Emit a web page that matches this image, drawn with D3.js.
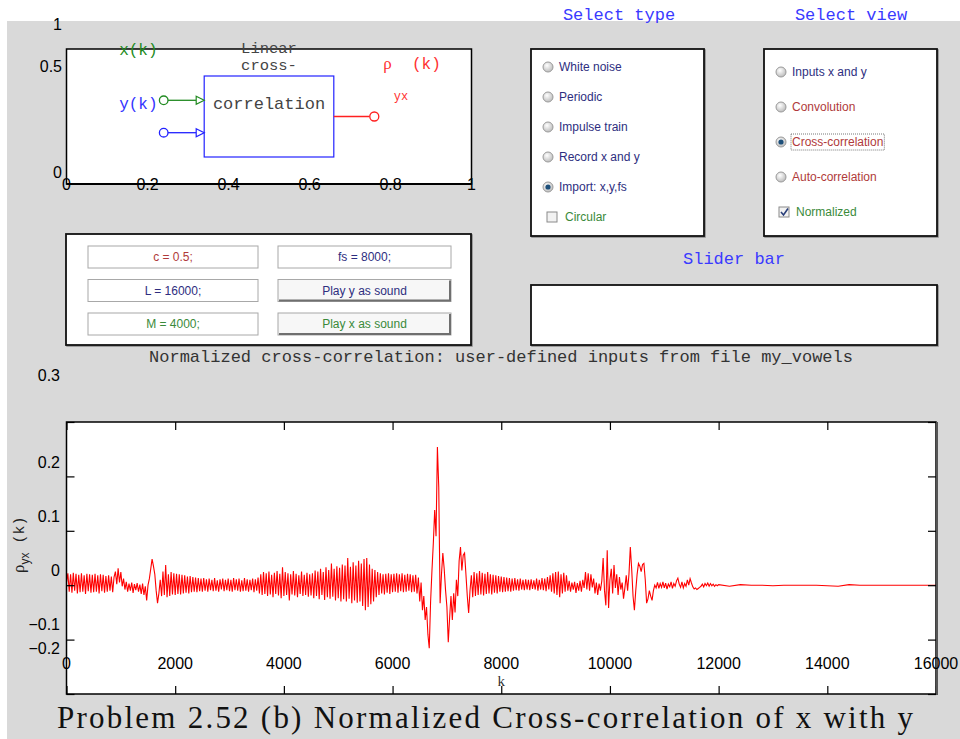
<!DOCTYPE html>
<html>
<head>
<meta charset="utf-8">
<script src="https://cdn.jsdelivr.net/npm/d3@7"></script>
<style>
  body { margin: 0; background: #fff; }
  svg { display: block; }
</style>
</head>
<body>
<div id="chart"></div>
<script>
// ---- data ----
const diagTicksX = [0, 0.2, 0.4, 0.6, 0.8, 1];
const diagTicksY = [0, 0.5, 1];
const typeOptions = ["White noise", "Periodic", "Impulse train", "Record x and y", "Import: x,y,fs"];
const typeSelected = 4;
const viewOptions = ["Inputs x and y", "Convolution", "Cross-correlation", "Auto-correlation"];
const viewSelected = 2;
const fieldLabels = [["c = 0.5;", "fs = 8000;"], ["L = 16000;", "Play y as sound"], ["M = 4000;", "Play x as sound"]];
const kTicks = [0, 2000, 4000, 6000, 8000, 10000, 12000, 14000, 16000];
const rhoTicks = [-0.2, -0.1, 0, 0.1, 0.2, 0.3];

// rho_yx(k), in thousandths, k = 0, 25, 50, ... 11975
const kStep = 25;
const rhoMilli = [
  5, 22, -12, 20, -14, 23, -10, 21, -15, 19, -13, 22, -12, 18, -16, 21, -11, 20, -14, 19,
  -13, 21, -12, 18, -15, 20, -11, 19, -14, 17, -12, 18, -10, 16, -13, 15, 25, 2, 31, 5,
  24, -2, 12, -8, 6, -12, 3, -10, 5, -14, 2, -9, 4, -12, 1, -16, 3, -18, -2, -28,
  0, 12, 30, 48, 35, 20, -10, -33, -15, 10, -20, 25, -18, 37, -22, 20, -20, 24, -17, 22,
  -18, 21, -16, 20, -17, 19, -15, 18, -14, 16, -15, 17, -13, 15, -12, 14, -13, 13, -11, 12,
  -12, 13, -10, 11, -12, 12, -9, 10, -11, 13, -10, 9, -12, 11, -8, 12, -11, 10, -9, 12,
  -11, 10, -12, 13, -9, 11, -10, 12, -12, 9, -11, 13, -10, 11, -12, 10, -9, 12, -13, 11,
  -10, 14, -15, 20, -18, 24, -16, 22, -20, 25, -17, 19, -22, 23, -16, 26, -19, 21, -24, 33,
  -20, 24, -18, 22, -28, 20, -17, 26, -19, 21, -22, 18, -16, 25, -20, 19, -18, 23, -21, 20,
  -19, 22, -24, 27, -20, 25, -26, 30, -18, 24, -27, 33, -22, 28, -25, 40, -21, 30, -28, 35,
  -24, 32, -30, 38, -26, 36, -30, 50, -25, 34, -33, 42, -28, 36, -32, 45, -30, 40, -38, 48,
  -46, 50, -40, 38, -35, 30, -30, 28, -22, 24, -18, 22, -15, 20, -17, 21, -14, 22, -16, 20,
  -13, 21, -12, 22, -14, 20, -11, 22, -13, 19, -12, 21, -10, 20, -13, 18, -12, 19, -15, 14,
  -30, 5, -46, -20, -64, -40, -90, -116, -30, 27, 77, 138, 90, 254, 180, -33, 20, 59, 30, -9,
  -40, -105, -60, -20, -64, -15, -50, 10, -20, 45, 70, 27, 55, 59, 20, -20, -51, -10, 18, -22,
  24, -20, 22, -18, 26, -17, 23, -19, 21, -16, 24, -15, 20, -17, 19, -14, 18, -15, 17, -12,
  16, -13, 15, -12, 14, -11, 13, -12, 12, -10, 13, -9, 11, -10, 12, -8, 10, -9, 11, -8,
  10, -9, 11, -7, 9, -8, 12, -10, 10, -8, 13, -9, 12, -11, 15, -8, 18, -12, 22, -15,
  24, -18, 25, -22, 20, -15, 23, -12, 18, -10, 8, -12, 5, -8, 6, -14, 4, -10, 8, -12,
  10, -5, 24, -8, 22, -10, 20, -4, 12, -15, 5, -18, 3, -10, 8, 50, -10, -37, 64, -42,
  10, 30, -15, 37, -5, 20, -18, 15, -8, 5, -25, -5, 18, -10, 20, 70, 30, -20, -46, -10,
  20, 40, 35, 25, 38, 40, 10, -33, -25, -10, -20, -28, -10, 0, -5, 5, -6, 3, -4, 6,
  -5, 4, -7, 2, -3, 6, -6, 3, -2, 8, 13, 2, -4, 6, -5, 3, -2, 10, 0, 12,
  4, -3, -7, -5, -8, -6, -4, -2, 2, -3, 3, -1, 4, -2, 3, -1, 2, -2, 1, -1
];
// flat tail, k = 12000, 12200, ... 16000
const tailStart = 12000;
const tailStep = 200;
const rhoTailMilli = [1, -2, 1, 0, 0, -1, 0, 0, 0, 0, -1, -2, 1, 0, 0, 0, 0, 0, 0, 0, 0];

// ---- page ----
const W = 960, H = 739;
const mono = "'Liberation Mono', 'Courier New', monospace";
const sans = "'Liberation Sans', Arial, sans-serif";
const serif = "'Liberation Serif', 'Times New Roman', serif";
const navy = "#2e2e80", brick = "#b03a3a", leaf = "#3a8a3a";

const svg = d3.select("#chart").append("svg")
  .attr("width", W).attr("height", H);

svg.append("rect").attr("x", 7).attr("y", 21).attr("width", W - 7).attr("height", H - 21)
  .attr("fill", "#d9d9d9");

const defs = svg.append("defs");
const grad = defs.append("radialGradient").attr("id", "radio").attr("cx", "40%").attr("cy", "35%").attr("r", "70%");
grad.append("stop").attr("offset", "0%").attr("stop-color", "#ffffff");
grad.append("stop").attr("offset", "100%").attr("stop-color", "#b8b8b8");

// ---- block diagram axes ----
const xd = d3.scaleLinear().domain([0, 1]).range([66.5, 471.5]);
const yd = d3.scaleLinear().domain([0, 1]).range([184, 49]);
const ydLab = d3.scaleLinear().domain([0, 0.5, 1]).range([172, 66, 24]); // where the labels ended up

const diag = svg.append("g");
diag.append("rect").attr("x", xd(0)).attr("y", yd(1)).attr("width", xd(1) - xd(0)).attr("height", yd(0) - yd(1))
  .attr("fill", "#fff").attr("stroke", "#000").attr("stroke-width", 1.5);
diag.append("line").attr("x1", xd(0)).attr("x2", xd(1)).attr("y1", yd(0)).attr("y2", yd(0))
  .attr("stroke", "#000").attr("stroke-width", 2);

diag.selectAll(".dxl").data(diagTicksX).enter().append("text")
  .attr("x", d => xd(d)).attr("y", yd(0) + 6)
  .attr("text-anchor", "middle").attr("font-family", sans).attr("font-size", 16).attr("fill", "#000")
  .text(d => d3.format("~g")(d));
diag.selectAll(".dyl").data(diagTicksY).enter().append("text")
  .attr("x", 62).attr("y", d => ydLab(d) + 6)
  .attr("text-anchor", "end").attr("font-family", sans).attr("font-size", 16).attr("fill", "#000")
  .text(d => d3.format("~g")(d));

// correlation block
diag.append("rect").attr("x", xd(0.34)).attr("y", yd(0.8)).attr("width", xd(0.66) - xd(0.34)).attr("height", yd(0.2) - yd(0.8))
  .attr("fill", "#fff").attr("stroke", "#2222ff").attr("stroke-width", 1.2);

function inputArrow(yv, col) {
  diag.append("line").attr("x1", xd(0.24) + 4).attr("x2", xd(0.34) - 8).attr("y1", yd(yv)).attr("y2", yd(yv))
    .attr("stroke", col).attr("stroke-width", 1.3);
  diag.append("path")
    .attr("d", `M${xd(0.34) - 8},${yd(yv) - 4}L${xd(0.34)},${yd(yv)}L${xd(0.34) - 8},${yd(yv) + 4}Z`)
    .attr("fill", "#fff").attr("stroke", col).attr("stroke-width", 1.2);
  diag.append("circle").attr("cx", xd(0.24)).attr("cy", yd(yv)).attr("r", 4.3)
    .attr("fill", "#fff").attr("stroke", col).attr("stroke-width", 1.3);
}
inputArrow(0.62, "#228b22");
inputArrow(0.38, "#2222ff");

diag.append("line").attr("x1", xd(0.66)).attr("x2", xd(0.76) - 4.5).attr("y1", yd(0.5)).attr("y2", yd(0.5))
  .attr("stroke", "#ff2020").attr("stroke-width", 1.3);
diag.append("circle").attr("cx", xd(0.76)).attr("cy", yd(0.5)).attr("r", 4.5)
  .attr("fill", "#fff").attr("stroke", "#ff2020").attr("stroke-width", 1.3);

const monoText = (x, y, t, col, size, anchor) => svg.append("text")
  .attr("x", x).attr("y", y).attr("text-anchor", anchor || "start")
  .attr("font-family", mono).attr("font-size", size || 17).attr("fill", col).text(t);

monoText(xd(0.13), yd(0.958), "x(k)", "#228b22", 16);
monoText(xd(0.13), yd(0.556), "y(k)", "#3333ff", 16);
monoText(xd(0.5), yd(0.968), "Linear", "#444", 15.5, "middle");
monoText(xd(0.5), yd(0.844), "cross-", "#444", 15.5, "middle");
monoText(xd(0.5), yd(0.556), "correlation", "#444", 17, "middle");
svg.append("text").attr("x", xd(0.782)).attr("y", yd(0.852)).attr("font-family", serif)
  .attr("font-size", 17).attr("fill", "#ff3030").text("ρ");
monoText(xd(0.853), yd(0.852), "(k)", "#ff3030", 16);
monoText(xd(0.808), yd(0.62), "yx", "#ff3030", 12);

// ---- selector panels ----
monoText(619, 20, "Select type", "#3a3aff", 17, "middle");
monoText(851, 20, "Select view", "#3a3aff", 17, "middle");

function panel(x, y, w, h) {
  svg.append("rect").attr("x", x + 1).attr("y", y + 1).attr("width", w).attr("height", h)
    .attr("fill", "none").attr("stroke", "#888").attr("stroke-width", 1.5);
  svg.append("rect").attr("x", x).attr("y", y).attr("width", w).attr("height", h)
    .attr("fill", "#fff").attr("stroke", "#111").attr("stroke-width", 1.8);
}
panel(531, 49, 173, 187);
panel(764, 49, 173, 187);

function radio(cx, cy, on) {
  svg.append("circle").attr("cx", cx).attr("cy", cy).attr("r", 5)
    .attr("fill", "url(#radio)").attr("stroke", "#9a9a9a").attr("stroke-width", 1);
  if (on) svg.append("circle").attr("cx", cx).attr("cy", cy).attr("r", 2.6).attr("fill", "#1d4f7a");
}
function checkbox(x, y, on) {
  svg.append("rect").attr("x", x).attr("y", y).attr("width", 10).attr("height", 10)
    .attr("fill", "#f2f2f2").attr("stroke", "#8a8a8a").attr("stroke-width", 1);
  if (on) svg.append("path").attr("d", `M${x + 2},${y + 5}L${x + 4.5},${y + 8}L${x + 9},${y + 1.5}`)
    .attr("fill", "none").attr("stroke", "#2a3f7a").attr("stroke-width", 1.6);
}
const uiText = (x, y, t, col) => svg.append("text").attr("x", x).attr("y", y)
  .attr("font-family", sans).attr("font-size", 12).attr("fill", col).text(t);

const yType = d3.scaleLinear().domain([0, 1]).range([67, 97]);
typeOptions.forEach((t, i) => {
  radio(548, yType(i), i === typeSelected);
  uiText(559, yType(i) + 4, t, navy);
});
checkbox(547, 212, false);
uiText(565, 221, "Circular", leaf);

const yView = d3.scaleLinear().domain([0, 1]).range([72, 107]);
const viewColors = [navy, brick, brick, brick];
viewOptions.forEach((t, i) => {
  radio(781, yView(i), i === viewSelected);
  const tx = uiText(792, yView(i) + 4, t, viewColors[i]);
  if (i === viewSelected) {
    const bb = tx.node().getBBox();
    svg.append("rect").attr("x", bb.x - 1).attr("y", bb.y - 1).attr("width", bb.width + 2).attr("height", bb.height + 2)
      .attr("fill", "none").attr("stroke", "#555").attr("stroke-width", 0.8).attr("stroke-dasharray", "1,1");
  }
});
checkbox(779, 207, true);
uiText(796, 216, "Normalized", leaf);

// ---- parameter panel ----
panel(66, 234, 405, 111);
const fieldCols = [88, 278], fieldW = [170, 173];
const rowY = d3.scaleLinear().domain([0, 1]).range([246, 279.5]);
const fieldColors = [[brick, navy], [navy, navy], [leaf, leaf]];
fieldLabels.forEach((row, r) => {
  row.forEach((t, c) => {
    const x = fieldCols[c], y = rowY(r), w = fieldW[c], h = 22;
    const isButton = c === 1 && r > 0;
    svg.append("rect").attr("x", x).attr("y", y).attr("width", w).attr("height", h)
      .attr("fill", isButton ? "#f7f7f7" : "#fff").attr("stroke", "#a8a8a8").attr("stroke-width", 1);
    if (isButton) {
      svg.append("path").attr("d", `M${x + 1},${y + h - 1}L${x + w - 1},${y + h - 1}L${x + w - 1},${y + 1}`)
        .attr("fill", "none").attr("stroke", "#6f6f6f").attr("stroke-width", 2);
    }
    svg.append("text").attr("x", x + w / 2).attr("y", y + 15).attr("text-anchor", "middle")
      .attr("font-family", sans).attr("font-size", 12).attr("fill", fieldColors[r][c]).text(t);
  });
});

monoText(734, 264, "Slider bar", "#3a3aff", 17, "middle");
panel(531, 285, 406, 60);

monoText(501, 362, "Normalized cross-correlation: user-defined inputs from file my_vowels", "#333", 17, "middle");

// ---- correlation plot ----
const x = d3.scaleLinear().domain([0, 16000]).range([66.5, 936]);
const y = d3.scaleLinear().domain([-0.2, 0.3]).range([694, 422]);
const yLab = d3.scaleLinear().domain([-0.2, -0.1, 0.2, 0.3]).range([648, 624, 462, 375]); // label drift in the original

const plot = svg.append("g");
plot.append("rect").attr("x", x(0)).attr("y", y(0.3)).attr("width", x(16000) - x(0)).attr("height", y(-0.2) - y(0.3))
  .attr("fill", "#fff");

const points = rhoMilli.map((v, i) => ({ k: i * kStep, r: v / 1000 }))
  .concat(rhoTailMilli.map((v, i) => ({ k: tailStart + i * tailStep, r: v / 1000 })));

plot.append("path").datum(points)
  .attr("fill", "none").attr("stroke", "#ff0000").attr("stroke-width", 1.1)
  .attr("d", d3.line().x(d => x(d.k)).y(d => y(d.r)));

const tick = 8;
plot.append("g").attr("transform", `translate(0,${y(-0.2)})`)
  .call(d3.axisTop(x).tickValues(kTicks).tickSize(tick).tickFormat(""));
plot.append("g").attr("transform", `translate(0,${y(0.3)})`)
  .call(d3.axisBottom(x).tickValues(kTicks).tickSize(tick).tickFormat(""));
plot.append("g").attr("transform", `translate(${x(0)},0)`)
  .call(d3.axisRight(y).tickValues(rhoTicks).tickSize(tick).tickFormat(""));
plot.append("g").attr("transform", `translate(${x(16000)},0)`)
  .call(d3.axisLeft(y).tickValues(rhoTicks).tickSize(tick).tickFormat(""));
plot.selectAll(".domain").remove();
plot.selectAll(".tick line").attr("stroke", "#000").attr("stroke-width", 1.2);

plot.append("rect").attr("x", x(0)).attr("y", y(0.3)).attr("width", x(16000) - x(0)).attr("height", y(-0.2) - y(0.3))
  .attr("fill", "none").attr("stroke", "#000").attr("stroke-width", 1.5);
plot.append("line").attr("x1", x(16000) + 1).attr("x2", x(16000) + 1).attr("y1", y(0.3)).attr("y2", y(-0.2) + 1)
  .attr("stroke", "#555").attr("stroke-width", 2);

plot.selectAll(".xl").data(kTicks).enter().append("text")
  .attr("x", d => x(d)).attr("y", 669).attr("text-anchor", "middle")
  .attr("font-family", sans).attr("font-size", 16).attr("fill", "#000").text(d => d);
plot.selectAll(".yl").data(rhoTicks).enter().append("text")
  .attr("x", 60).attr("y", d => yLab(d) + 6).attr("text-anchor", "end")
  .attr("font-family", sans).attr("font-size", 16).attr("fill", "#000")
  .text(d => d3.format("~g")(d).replace("-", "\u2212"));

svg.append("text").attr("x", x(8000)).attr("y", 686).attr("text-anchor", "middle")
  .attr("font-family", serif).attr("font-size", 15).attr("fill", "#333").text("k");

const ylab = svg.append("text").attr("transform", "translate(24,573) rotate(-90)")
  .attr("font-family", mono).attr("font-size", 15).attr("fill", "#222");
ylab.append("tspan").attr("font-family", serif).attr("font-size", 17).text("ρ");
ylab.append("tspan").attr("dy", 5).attr("font-family", sans).attr("font-size", 12).text("yx");
ylab.append("tspan").attr("dy", -5).text(" (k)");

// ---- caption ----
svg.append("text").attr("x", 485).attr("y", 728).attr("text-anchor", "middle")
  .attr("font-family", serif).attr("font-size", 31).attr("fill", "#111")
  .attr("textLength", 856).attr("lengthAdjust", "spacing")
  .text("Problem 2.52 (b)  Normalized Cross-correlation of x with y");
</script>
</body>
</html>
